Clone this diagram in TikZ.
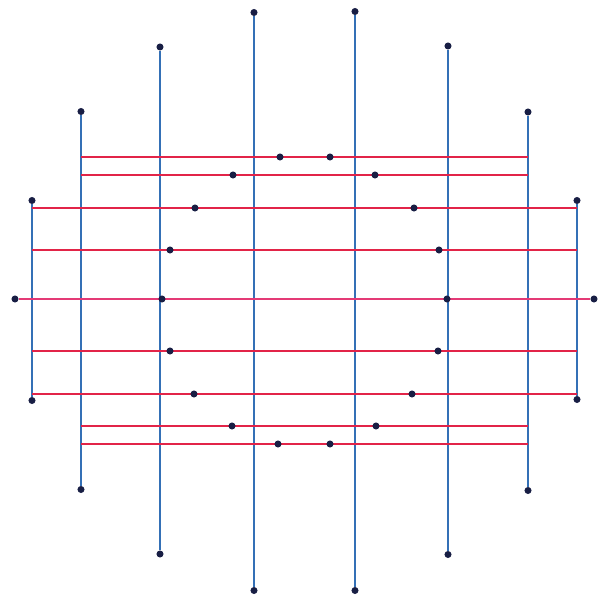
\documentclass[tikz,border=0pt]{standalone}
\usetikzlibrary{backgrounds}

\definecolor{rodblue}{RGB}{52,112,182}
\definecolor{barred}{RGB}{226,36,72}
\definecolor{axispink}{RGB}{228,58,118}
\definecolor{dotnavy}{RGB}{24,30,68}

\begin{document}
\begin{tikzpicture}[
  x=0.025cm, y=0.025cm,
  rod/.style={draw=rodblue, line width=1.3pt},
  bar/.style={draw=barred, line width=2.1pt},
  midbar/.style={draw=axispink, line width=1.4pt},
  tip/.style={circle, fill=dotnavy, inner sep=0pt, minimum size=5pt}
]
\useasboundingbox (-304.5,-302.5) rectangle (300.5,300.5);

% rod ends, from the outside in
\node[tip] (c1t) at (-272.5,100) {};    \node[tip] (c1b) at (-272.5,-100) {};
\node[tip] (c2t) at (-223.5,189) {};    \node[tip] (c2b) at (-223.5,-189) {};
\node[tip] (c3t) at (-144.5,253.5) {};  \node[tip] (c3b) at (-144.5,-253.5) {};
\node[tip] (c4t) at (-50.5,288) {};     \node[tip] (c4b) at (-50.5,-290) {};
\node[tip] (c5t) at (50.5,289) {};      \node[tip] (c5b) at (50.5,-290) {};
\node[tip] (c6t) at (143.5,254.5) {};   \node[tip] (c6b) at (143.5,-254) {};
\node[tip] (c7t) at (223.5,188.5) {};   \node[tip] (c7b) at (223.5,-190) {};
\node[tip] (c8t) at (272.5,100) {};     \node[tip] (c8b) at (272.5,-99) {};

% bar ends on the rods
\coordinate (r1l) at (-223.5,143.5);  \coordinate (r1r) at (223.5,143.5);
\coordinate (r2l) at (-223.5,125.5);  \coordinate (r2r) at (223.5,125.5);
\coordinate (r3l) at (-272.5,92.5);   \coordinate (r3r) at (272.5,92.5);
\coordinate (r4l) at (-272.5,50.5);   \coordinate (r4r) at (272.5,50.5);
\node[tip] (r5l) at (-289.5,1.5) {};  \node[tip] (r5r) at (289.5,1.5) {};
\coordinate (r6l) at (-272.5,-50.5);  \coordinate (r6r) at (272.5,-50.5);
\coordinate (r7l) at (-272.5,-93.5);  \coordinate (r7r) at (272.5,-93.5);
\coordinate (r8l) at (-223.5,-125.5); \coordinate (r8r) at (223.5,-125.5);
\coordinate (r9l) at (-223.5,-143.5); \coordinate (r9r) at (223.5,-143.5);

% points on the bars
\node[tip] (r1a) at (-24.5,143.5) {};  \node[tip] (r1b) at (25.5,143.5) {};
\node[tip] (r2a) at (-71.5,125.5) {};  \node[tip] (r2b) at (70.5,125.5) {};
\node[tip] (r3a) at (-109.5,92.5) {};  \node[tip] (r3b) at (109.5,92.5) {};
\node[tip] (r4a) at (-134.5,50.5) {};  \node[tip] (r4b) at (134.5,50.5) {};
\node[tip] (r5a) at (-142.5,1.5) {};   \node[tip] (r5b) at (142.5,1.5) {};
\node[tip] (r6a) at (-134.5,-50.5) {}; \node[tip] (r6b) at (133.5,-50.5) {};
\node[tip] (r7a) at (-110.5,-93.5) {}; \node[tip] (r7b) at (107.5,-93.5) {};
\node[tip] (r8a) at (-72.5,-125.5) {}; \node[tip] (r8b) at (71.5,-125.5) {};
\node[tip] (r9a) at (-26.5,-143.5) {}; \node[tip] (r9b) at (25.5,-143.5) {};

\begin{scope}[on background layer]
\draw[rod] (c1t) -- (c1b);
\draw[rod] (c2t) -- (c2b);
\draw[rod] (c3t) -- (c3b);
\draw[rod] (c4t) -- (c4b);
\draw[rod] (c5t) -- (c5b);
\draw[rod] (c6t) -- (c6b);
\draw[rod] (c7t) -- (c7b);
\draw[rod] (c8t) -- (c8b);

\draw[bar] (r1l) -- (r1r);
\draw[bar] (r2l) -- (r2r);
\draw[bar] (r3l) -- (r3r);
\draw[bar] (r4l) -- (r4r);
\draw[midbar] (r5l) -- (r5r);
\draw[bar] (r6l) -- (r6r);
\draw[bar] (r7l) -- (r7r);
\draw[bar] (r8l) -- (r8r);
\draw[bar] (r9l) -- (r9r);
\end{scope}

\end{tikzpicture}
\end{document}
